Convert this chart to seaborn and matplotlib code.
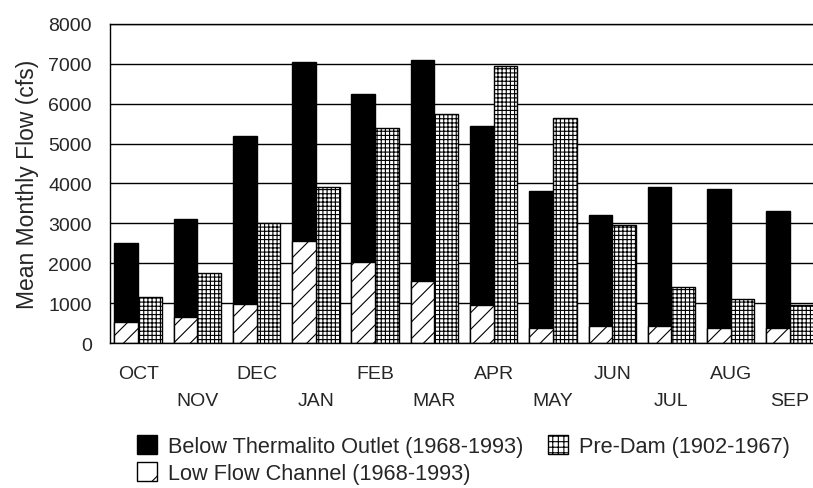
import numpy as np
import pandas as pd
import matplotlib
matplotlib.use("Agg")
import matplotlib.pyplot as plt
import seaborn as sns
from matplotlib.patches import Patch

### DATA ###

months = ['OCT', 'NOV', 'DEC', 'JAN', 'FEB', 'MAR',
          'APR', 'MAY', 'JUN', 'JUL', 'AUG', 'SEP']

below_thermalito = [2500, 3100, 5200, 7050, 6250, 7100,
                    5450, 3800, 3200, 3900, 3870, 3300]

low_flow = [530, 650, 970, 2550, 2030, 1550,
            960, 380, 430, 430, 380, 380]

pre_dam = [1150, 1750, 3000, 3900, 5400, 5750,
           6950, 5650, 2950, 1400, 1100, 950]

lbl_below = 'Below Thermalito Outlet (1968-1993)'
lbl_low = 'Low Flow Channel (1968-1993)'
lbl_pre = 'Pre-Dam (1902-1967)'

### FRAME BUILD ###

df = pd.concat([
    pd.DataFrame({'month': months, 'flow': below_thermalito, 'series': lbl_below}),
    pd.DataFrame({'month': months, 'flow': pre_dam, 'series': lbl_pre}),
])

### PLOT ###

sns.set_style('white')
plt.rcParams['font.family'] = ['Liberation Sans', 'DejaVu Sans']
plt.rcParams['hatch.linewidth'] = 0.8

fig = plt.figure(figsize=(8.13, 4.89), dpi=100)
ax = fig.add_axes([0.1353, 0.2965, 0.871, 0.6524])

sns.barplot(
    data=df, x='month', y='flow', hue='series',
    hue_order=[lbl_below, lbl_pre], order=months,
    palette={lbl_below: 'black', lbl_pre: 'white'},
    saturation=1, edgecolor='black', linewidth=1,
    width=0.8, legend=False, errorbar=None, ax=ax
)

for bar in ax.containers[1]:
    bar.set_hatch('++++')

# low flow channel drawn over the black bars, same slots
below_bars = ax.containers[0]
ax.bar(
    [p.get_x() for p in below_bars],
    low_flow,
    width=[p.get_width() for p in below_bars],
    align='edge', color='white', edgecolor='black',
    linewidth=1, hatch='//'
)

ax.set_ylim(0, 8000)
ax.set_xlim(-0.475, 11.475)
ax.set_yticks(np.arange(0, 8001, 1000))
ax.yaxis.grid(True, color='black', linewidth=1)
ax.set_axisbelow(True)

ax.set_xticks(range(len(months)))
ax.set_xticklabels([m if i % 2 == 0 else '\n' + m for i, m in enumerate(months)],
                   linespacing=1.75)
ax.tick_params(axis='x', length=0, pad=16, labelsize=14)
ax.tick_params(axis='y', length=0, pad=13, labelsize=14)

ax.set_xlabel('')
ax.set_ylabel('Mean Monthly Flow (cfs)', fontsize=16.5, labelpad=7)

for side in ['left', 'bottom', 'top']:
    ax.spines[side].set_color('black')
    ax.spines[side].set_linewidth(1)
ax.spines['right'].set_visible(False)

handles = [
    Patch(facecolor='black', edgecolor='black', label=lbl_below),
    Patch(facecolor='white', edgecolor='black', hatch='/', label=lbl_low),
    Patch(facecolor='white', edgecolor='black', hatch='+++', label=lbl_pre),
]
fig.legend(
    handles=handles, ncol=2, loc='upper left',
    bbox_to_anchor=(0.168, 0.108), frameon=False,
    fontsize=15.7, handlelength=0.95, handleheight=0.95,
    handletextpad=0.5, columnspacing=1.1, labelspacing=0.22,
    borderpad=0, borderaxespad=0
)

fig.savefig('out.png', dpi=100)
